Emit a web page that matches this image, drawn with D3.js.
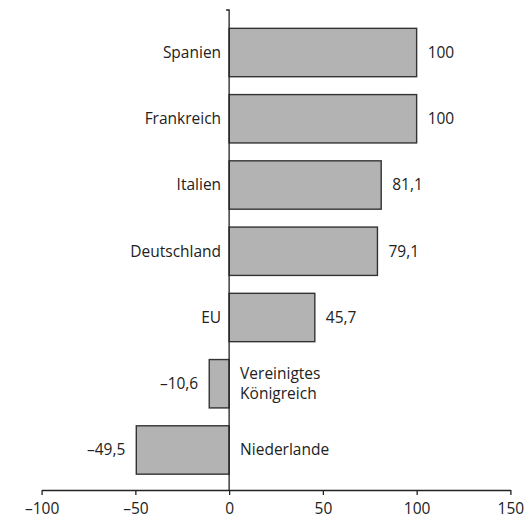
<!DOCTYPE html>
<html>
<head>
<meta charset="utf-8">
<script src="https://cdn.jsdelivr.net/npm/d3@7"></script>
<style>
    body { margin: 0; background: #fff; }
    svg { display: block; font-family: "Open Sans", sans-serif; }
</style>
</head>
<body>
<div id="chart"></div>
<script>
const countries = ["Spanien", "Frankreich", "Italien", "Deutschland", "EU", "Vereinigtes Königreich", "Niederlande"];
const values = [100, 100, 81.1, 79.1, 45.7, -10.6, -49.5];
const xTicks = [-100, -50, 0, 50, 100, 150];

const W = 532, H = 525;
const svg = d3.select("#chart").append("svg").attr("width", W).attr("height", H);

const x = d3.scaleLinear().domain([-100, 150]).range([41.6, 510.4]);
const y = d3.scaleBand().domain(countries).range([19.4, 483.1])
    .paddingInner(0.27).paddingOuter(0.135);

const fmt = v => (v < 0 ? "\u2013" : "") + String(Math.abs(v)).replace(".", ",");

const data = countries.map((c, i) => ({ name: c, value: values[i] }));

// bars
svg.selectAll("rect.bar").data(data).enter().append("rect")
    .attr("class", "bar")
    .attr("x", d => x(Math.min(0, d.value)))
    .attr("y", d => y(d.name))
    .attr("width", d => Math.abs(x(d.value) - x(0)))
    .attr("height", y.bandwidth())
    .attr("fill", "#b3b3b3")
    .attr("stroke", "#333")
    .attr("stroke-width", 1.4);

// vertical zero line with small top hook
const y0 = 10, y1 = 490;
svg.append("path")
    .attr("d", `M${x(0) - 3},${y0}H${x(0)}V${y1}`)
    .attr("fill", "none").attr("stroke", "#222").attr("stroke-width", 1.3);

// bottom axis
const ax = svg.append("g")
    .attr("transform", `translate(0,${y1})`)
    .call(d3.axisBottom(x).tickValues(xTicks).tickSize(5).tickSizeOuter(0).tickFormat(fmt));
ax.select(".domain").attr("stroke", "#222").attr("stroke-width", 1.3);
ax.selectAll(".tick line").attr("stroke", "#222").attr("stroke-width", 1.3);
ax.selectAll(".tick text")
    .attr("font-family", "Open Sans, sans-serif")
    .attr("font-size", 15.5).attr("fill", "#222").attr("dy", "1.05em");

// category labels
const lab = svg.selectAll("text.cat").data(data).enter().append("text")
    .attr("class", "cat")
    .attr("font-size", 15.5).attr("fill", "#222")
    .attr("x", d => d.value >= 0 ? x(0) - 8 : x(0) + 11)
    .attr("text-anchor", d => d.value >= 0 ? "end" : "start");
lab.each(function (d) {
    const words = d.name === "Vereinigtes Königreich" ? ["Vereinigtes", "Königreich"] : [d.name];
    const cy = y(d.name) + y.bandwidth() / 2;
    const t = d3.select(this);
    words.forEach((w, i) => {
        t.append("tspan")
            .attr("x", t.attr("x"))
            .attr("y", cy + (i - (words.length - 1) / 2) * 20)
            .attr("dy", "0.35em")
            .text(w);
    });
});

// value labels
svg.selectAll("text.val").data(data).enter().append("text")
    .attr("class", "val")
    .attr("font-size", 15.5).attr("fill", "#222")
    .attr("x", d => d.value >= 0 ? x(d.value) + 11 : x(d.value) - 11)
    .attr("y", d => y(d.name) + y.bandwidth() / 2)
    .attr("dy", "0.35em")
    .attr("text-anchor", d => d.value >= 0 ? "start" : "end")
    .text(d => fmt(d.value));
</script>
</body>
</html>
